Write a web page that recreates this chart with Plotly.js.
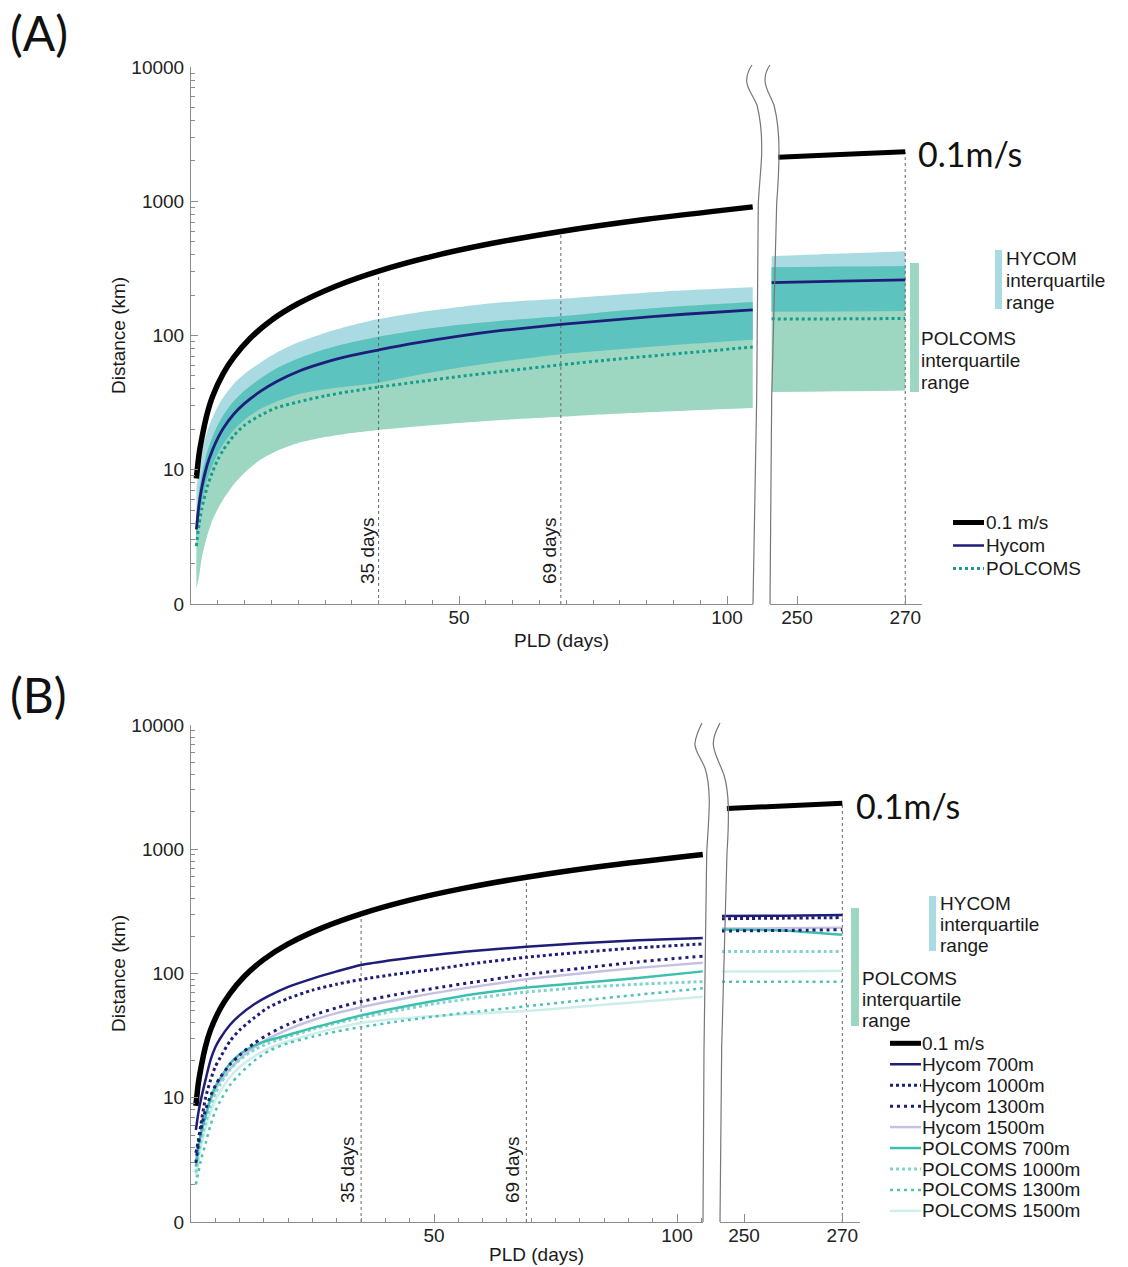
<!DOCTYPE html>
<html><head><meta charset="utf-8">
<script src="https://cdn.plot.ly/plotly-3.0.1.min.js"></script>
<style>body{margin:0;background:#fff}</style>
</head><body>
<div id="chart" style="width:1128px;height:1267px"></div>
<script>
// ---------------- DATA ----------------
// Panel A, main segment (PLD days)
const dayA      = [1, 1.5, 2, 3, 4, 5, 6, 8, 10, 13, 16, 20, 25, 30, 35, 42, 50, 58, 69, 80, 92, 104.8];
const hycomMedA = [3.6, 5.5, 7.3, 10.8, 14, 17.2, 20.3, 26, 31.2, 38.5, 45.5, 54, 63, 71, 78, 88, 99, 109, 121, 132, 144, 155];
const polMedA   = [2.7, 3.9, 5.1, 7.4, 9.6, 11.9, 14, 18, 21.5, 25.5, 29, 32, 35.5, 38.5, 41.3, 45, 49.5, 54, 60.5, 67, 74, 82];
const hycomUpA  = [7.2, 10.5, 13.5, 19.2, 24.4, 29.6, 34.5, 43.7, 51.8, 63, 74.6, 89, 104.6, 119, 132.6, 148, 163, 176.6, 187.6, 202, 217, 229];
const hycomLoA  = [2.9, 4.3, 5.7, 8.4, 10.8, 13.2, 15.5, 19.8, 23.6, 28.5, 32.3, 36.5, 39.7, 42, 44.5, 50.5, 57.5, 64, 72.5, 79, 86, 93];
const polUpA    = [4.5, 6.9, 9.1, 13.5, 17.5, 21.5, 25.4, 32.5, 39, 48, 57, 67.5, 79, 89, 98, 109, 120, 129, 139, 153, 166, 178];
const polLoA    = [1.3, 1.6, 2.2, 3.2, 4.2, 5.1, 6, 7.8, 9.5, 11.9, 13.8, 15.8, 17.5, 18.8, 19.8, 21, 22.3, 23.5, 24.8, 26.2, 27.5, 28.8];
// Panel A, late segment
const dayAR      = [245.3, 258, 270];
const hycomMedAR = [248, 254, 260];
const polMedAR   = [133, 133, 134];
const hycomUpAR  = [390, 408, 425];
const hycomLoAR  = [150, 151, 152];
const polUpAR    = [322, 326, 330];
const polLoAR    = [38, 38.5, 39];
// 0.1 m/s reference
const blackDayA = [1, 1.5, 2, 3, 4, 6, 8, 11, 15, 20, 27, 35, 45, 56, 69, 85, 104.8];
const blackDayB = [1, 1.5, 2, 3, 4, 6, 8, 11, 15, 20, 27, 35, 45, 56, 69, 85, 105.3];
const blackVal  = [8.6, 13, 17, 26, 35, 52, 69, 95, 130, 173, 233, 302, 389, 484, 596, 734, 908];
const blackDayR = [246.5, 258, 270];
const blackValR = [2130, 2230, 2340];
const refDays = [35, 69];

// Panel B, main segment
const dayB    = [1, 1.5, 2, 3, 4, 5, 6, 8, 10, 13, 16, 20, 25, 30, 35, 42, 50, 58, 69, 80, 92, 105.3];
const h700B   = [5.5, 7.5, 9.5, 14, 20, 25.5, 30, 38.5, 46, 56.5, 66, 78, 91, 104, 117, 129, 141, 152, 164, 175, 185, 193];
const h1000B  = [3.6, 4.5, 6, 10, 13.8, 17.8, 21, 28.5, 35, 44, 53.5, 63, 73.5, 82, 89.5, 98.5, 108, 120, 135, 148, 161, 173];
const h1300B  = [3, 4.2, 5.5, 8, 10.3, 12.5, 14.6, 18.5, 22, 27.5, 32.5, 39, 46, 53, 59.5, 67.5, 76, 85, 98, 110, 124, 138];
const h1500B  = [3, 4.1, 5.2, 7.5, 9.6, 11.6, 13.5, 17, 20.5, 25.5, 30, 35.5, 42, 48, 53.5, 61, 69.5, 78, 90, 100, 111, 122];
const p700B   = [2.8, 3.9, 5, 7.1, 9.8, 12.3, 14.3, 18.8, 22.3, 26.3, 29, 32, 36.5, 41, 46, 52.5, 60, 68, 77, 84, 92, 104];
const p1000B  = [2.5, 3.4, 4.4, 6.3, 8.6, 10.8, 12.8, 16.8, 20.2, 24.3, 27.5, 31, 35.5, 40, 44, 50, 57, 63, 71, 77, 82, 86];
const p1300B  = [2, 2.5, 3.1, 4.3, 6, 7.8, 9.4, 12.6, 15.5, 19.8, 23.8, 27.5, 31, 34.2, 37, 40.8, 45, 49, 54.5, 60.5, 67.5, 76];
const p1500B  = [2.3, 3.1, 4, 5.7, 7.6, 9.5, 11.2, 14.6, 17.7, 21.5, 25, 28.5, 32.5, 36.5, 40, 43, 45.5, 47.5, 50, 54, 59, 65];
// Panel B, late segment
const dayBR    = [245.5, 258, 270];
const h700BR   = [290, 292, 295];
const h1000BR  = [276, 279, 282];
const h1300BR  = [220, 222, 225];
const h1500BR  = [230, 231, 233];
const p700BR   = [226, 222, 205];
const p1000BR  = [150, 150, 150];
const p1300BR  = [86, 86, 86];
const p1500BR  = [104, 104, 105];

const yTickVals = [1, 10, 100, 1000, 10000];
const yTickText = ['0', '10', '100', '1000', '10000'];
const xTickMain = [50, 100];
const xTickLate = [250, 270];

// ---------------- STYLE ----------------
const W = 1128, H = 1267;
const px = x => x / W, py = y => 1 - y / H;
const ARIAL = 'Liberation Sans, Arial, Helvetica, sans-serif';
const CAL = 'Lato, Carlito, Calibri, sans-serif';
const C = {
  black: '#000000', navy: '#1e1e78', polA: '#159e8e',
  hyBand: '#aadbe3', polBand: '#9dd7c1', overlap: '#5dc3bf',
  h1500: '#c6c0e2', p700: '#3dbfae', p1000: '#7fd4cc', p1300: '#4fc2b6', p1500: '#cdeeea',
  ref: '#666666', axis: '#8c8c8c'
};

const traces = [];
const SM = 0.7;
function line(x, y, xa, ya, color, width, dash) {
  traces.push({type: 'scatter', mode: 'lines', x, y, xaxis: xa, yaxis: ya,
    line: {color, width, dash: dash || 'solid', shape: 'spline', smoothing: SM},
    showlegend: false, hoverinfo: 'skip'});
}
function band(x, lo, hi, xa, ya, color) {
  traces.push({type: 'scatter', mode: 'lines', x, y: lo, xaxis: xa, yaxis: ya,
    line: {width: 0, shape: 'spline', smoothing: SM}, showlegend: false, hoverinfo: 'skip'});
  traces.push({type: 'scatter', mode: 'lines', x, y: hi, xaxis: xa, yaxis: ya, fill: 'tonexty',
    fillcolor: color, line: {width: 0, shape: 'spline', smoothing: SM}, showlegend: false, hoverinfo: 'skip'});
}
function refLine(d, top, xa, ya) {
  traces.push({type: 'scatter', mode: 'lines', x: [d, d], y: [1, top], xaxis: xa, yaxis: ya,
    line: {color: C.ref, width: 1, dash: 'dot'}, showlegend: false, hoverinfo: 'skip'});
}
const minOf = (a, b) => a.map((v, i) => Math.min(v, b[i]));
const maxOf = (a, b) => a.map((v, i) => Math.max(v, b[i]));

// ---- Panel A bands
band(dayA, hycomLoA, hycomUpA, 'x', 'y', C.hyBand);
band(dayA, polLoA, polUpA, 'x', 'y', C.polBand);
band(dayA, maxOf(hycomLoA, polLoA), minOf(hycomUpA, polUpA), 'x', 'y', C.overlap);
band(dayAR, hycomLoAR, hycomUpAR, 'x2', 'y', C.hyBand);
band(dayAR, polLoAR, polUpAR, 'x2', 'y', C.polBand);
band(dayAR, maxOf(hycomLoAR, polLoAR), minOf(hycomUpAR, polUpAR), 'x2', 'y', C.overlap);
// ref lines A
refDays.forEach(d => refLine(d, blackVal[blackDayA.indexOf(d)], 'x', 'y'));
refLine(270, blackValR[blackValR.length - 1], 'x2', 'y');
// lines A
line(dayA, polMedA, 'x', 'y', C.polA, 3, 'dot');
line(dayAR, polMedAR, 'x2', 'y', C.polA, 3, 'dot');
line(dayA, hycomMedA, 'x', 'y', C.navy, 2.8);
line(dayAR, hycomMedAR, 'x2', 'y', C.navy, 2.8);
line(blackDayA, blackVal, 'x', 'y', C.black, 5.5);
line(blackDayR, blackValR, 'x2', 'y', C.black, 5);

// ---- Panel B
refDays.forEach(d => refLine(d, blackVal[blackDayB.indexOf(d)], 'x3', 'y2'));
refLine(270, blackValR[blackValR.length - 1], 'x4', 'y2');
const seriesB = [
  [p1500B, p1500BR, C.p1500, 2.5, 'solid'],
  [h1500B, h1500BR, C.h1500, 2.5, 'solid'],
  [p1300B, p1300BR, C.p1300, 2.5, '3px,4px'],
  [p1000B, p1000BR, C.p1000, 3, 'dot'],
  [p700B, p700BR, C.p700, 2.5, 'solid'],
  [h1300B, h1300BR, C.navy, 3, '3px,4px'],
  [h1000B, h1000BR, C.navy, 3, 'dot'],
  [h700B, h700BR, C.navy, 2.5, 'solid']
];
seriesB.forEach(s => { line(dayB, s[0], 'x3', 'y2', s[2], s[3], s[4]); line(dayBR, s[1], 'x4', 'y2', s[2], s[3], s[4]); });
line(blackDayB, blackVal, 'x3', 'y2', C.black, 5.5);
line(blackDayR, blackValR, 'x4', 'y2', C.black, 5);

// ---------------- AXES ----------------
const tickFont = {family: ARIAL, size: 19, color: '#222'};
const minorY = [];
for (let e = 0; e < 4; e++) for (let m = 2; m <= 9; m++) minorY.push(m * Math.pow(10, e));
function xax(d0, d1, range, tv, anchor, minor) {
  const a = {domain: [px(d0), px(d1)], range, anchor, showline: true, linecolor: C.axis, linewidth: 1,
    ticks: 'inside', ticklen: 8, tickcolor: C.axis, tickmode: 'array', tickvals: tv, ticktext: tv.map(String),
    tickfont: tickFont, showgrid: false, zeroline: false, fixedrange: true, ticklabelstandoff: -4};
  if (minor) a.minor = {tickmode: 'linear', tick0: 0, dtick: 5, ticks: 'inside', ticklen: 4, tickcolor: C.axis, showgrid: false};
  return a;
}
function yax(top, bot, anchor) {
  return {domain: [py(bot), py(top)], type: 'log', range: [0, 4], anchor, showline: true, linecolor: C.axis,
    linewidth: 1, ticks: 'inside', ticklen: 7, tickcolor: C.axis, tickmode: 'array', tickvals: yTickVals,
    ticktext: yTickText, tickfont: tickFont, showgrid: false, zeroline: false, fixedrange: true, ticklabelstandoff: 2,
    minor: {tickmode: 'array', tickvals: minorY, ticks: 'inside', ticklen: 4, tickcolor: C.axis, showgrid: false}};
}

// ---------------- SHAPES ----------------
function pathPx(cmds) {
  return cmds.map(c => Array.isArray(c) ? (px(c[0]).toFixed(5) + ',' + py(c[1]).toFixed(5)) : c).join(' ');
}
const shapes = [];
function wavy(cmds) {
  shapes.push({type: 'path', xref: 'paper', yref: 'paper', path: pathPx(cmds),
    line: {color: '#777', width: 1.2}, fillcolor: 'rgba(0,0,0,0)'});
}
// panel A break
wavy(['M', [753, 604], 'L', [756.7, 397], 'L', [758.3, 203], 'C', [760, 175], [762, 160], [761.7, 150],
  'C', [762, 130], [760, 117], [757, 105], 'C', [752, 93], [746, 88], [746.7, 80], 'C', [747, 72], [750, 68], [752, 65]]);
wavy(['M', [770, 604], 'L', [771.7, 397], 'L', [776.7, 203], 'C', [778.5, 180], [779, 160], [779, 150],
  'C', [779, 130], [777, 117], [774, 105], 'C', [769, 93], [765, 88], [765, 80], 'C', [765, 72], [768, 68], [770, 65]]);
// panel B break
wavy(['M', [703, 1222], 'L', [704, 1050], 'L', [706.7, 853], 'C', [708, 830], [709.5, 812], [709.3, 800],
  'C', [709, 788], [708, 777], [705, 768], 'C', [700, 756], [694, 750], [695, 743], 'C', [696, 735], [699, 729], [702, 723]]);
wavy(['M', [720, 1222], 'L', [721.7, 1047], 'L', [727, 853], 'C', [728.5, 830], [728.5, 815], [728.3, 807],
  'C', [728, 795], [727, 785], [724, 775], 'C', [719, 761], [713, 752], [713.3, 743], 'C', [713.5, 735], [717, 729], [720, 723]]);

function rect(x0, y0, x1, y1, color) {
  shapes.push({type: 'rect', xref: 'paper', yref: 'paper', x0: px(x0), x1: px(x1), y0: py(y1), y1: py(y0),
    fillcolor: color, line: {width: 0}});
}
rect(995, 250, 1002, 309, C.hyBand);
rect(910, 263, 919, 392, C.polBand);
rect(929, 896, 936, 951, C.hyBand);
rect(851, 908, 859, 1026, C.polBand);

function sample(x0, x1, y, color, width, dash) {
  shapes.push({type: 'line', xref: 'paper', yref: 'paper', x0: px(x0), x1: px(x1), y0: py(y), y1: py(y),
    line: {color, width, dash: dash || 'solid'}});
}

// ---------------- ANNOTATIONS ----------------
const annotations = [];
function ann(text, x, y, o) {
  o = o || {};
  annotations.push({text, x: px(x), y: py(y), xref: 'paper', yref: 'paper', showarrow: false,
    xanchor: o.xa || 'left', yanchor: 'middle', textangle: o.angle || 0,
    font: {family: o.family || ARIAL, size: o.size || 19, color: o.color || '#1a1a1a'}});
}
ann('(A)', 8, 33, {family: CAL, size: 48, color: '#111'});
ann('(B)', 8, 694, {family: CAL, size: 48, color: '#111'});
ann('Distance (km)', 118, 336, {xa: 'center', angle: -90});
ann('Distance (km)', 118, 974, {xa: 'center', angle: -90});
ann('PLD (days)', 561, 640, {xa: 'center'});
ann('PLD (days)', 536, 1254, {xa: 'center'});
ann('35 days', 367, 551, {xa: 'center', angle: -90});
ann('69 days', 549, 551, {xa: 'center', angle: -90});
ann('35 days', 347, 1170, {xa: 'center', angle: -90});
ann('69 days', 512, 1170, {xa: 'center', angle: -90});
ann('0.1m/s', 916, 153, {family: CAL, size: 34, color: '#111'});
ann('0.1m/s', 854, 805, {family: CAL, size: 34, color: '#111'});
// range labels
['HYCOM', 'interquartile', 'range'].forEach((t, i) => ann(t, 1004, 258 + 22 * i));
['POLCOMS', 'interquartile', 'range'].forEach((t, i) => ann(t, 919, 339 + 22 * i));
['HYCOM', 'interquartile', 'range'].forEach((t, i) => ann(t, 938, 903 + 21 * i));
['POLCOMS', 'interquartile', 'range'].forEach((t, i) => ann(t, 860, 978 + 21 * i));

// legends
const legA = [['0.1 m/s', C.black, 5, 'solid'], ['Hycom', C.navy, 2.5, 'solid'], ['POLCOMS', C.polA, 3, 'dot']];
legA.forEach((e, i) => { const y = 522.5 + 23 * i; sample(953, 984, y, e[1], e[2], e[3]); ann(e[0], 984, y); });
const legB = [['0.1 m/s', C.black, 5, 'solid'], ['Hycom 700m', C.navy, 2.5, 'solid'], ['Hycom 1000m', C.navy, 3, 'dot'],
  ['Hycom 1300m', C.navy, 3, '3px,4px'], ['Hycom 1500m', C.h1500, 2.5, 'solid'], ['POLCOMS 700m', C.p700, 2.5, 'solid'],
  ['POLCOMS 1000m', C.p1000, 3, 'dot'], ['POLCOMS 1300m', C.p1300, 2.5, '3px,4px'], ['POLCOMS 1500m', C.p1500, 2.5, 'solid']];
legB.forEach((e, i) => { const y = 1043.3 + 20.95 * i; sample(890, 921, y, e[1], e[2], e[3]); ann(e[0], 920, y); });

const layout = {
  width: W, height: H, margin: {l: 0, r: 0, t: 0, b: 0}, paper_bgcolor: '#fff', plot_bgcolor: 'rgba(0,0,0,0)',
  showlegend: false,
  xaxis: xax(191, 753, [0, 104.85], xTickMain, 'y', true),
  xaxis2: xax(770, 922, [245, 273.1], xTickLate, 'y', false),
  yaxis: yax(67, 604, 'x'),
  xaxis3: xax(191, 703, [0, 105.35], xTickMain, 'y2', true),
  xaxis4: xax(720, 860, [245.1, 273.6], xTickLate, 'y2', false),
  yaxis2: yax(725, 1222, 'x3'),
  shapes, annotations
};
Plotly.newPlot('chart', traces, layout, {staticPlot: true, displayModeBar: false});
</script>
</body></html>
